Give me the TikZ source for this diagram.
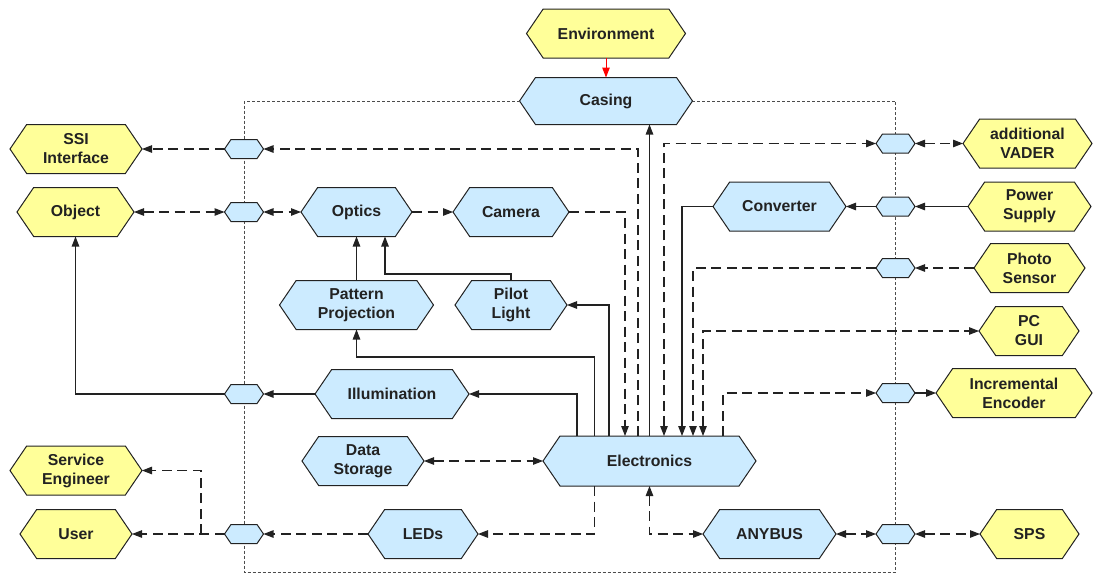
\documentclass[tikz,border=0pt]{standalone}
\usepackage{fontspec}
\setmainfont{Liberation Sans}
\usetikzlibrary{arrows.meta}

\definecolor{boxblue}{HTML}{CCEBFF}
\definecolor{boxyellow}{HTML}{FFFF99}
\definecolor{edge}{HTML}{222222}

\tikzset{
  hexline/.style={draw=edge, line width=1pt, line join=miter},
  bluebox/.style={fill=boxblue},
  yellowbox/.style={fill=boxyellow},
  hexlabel/.style={inner sep=0pt, outer sep=0pt, align=center, text=edge,
    font=\fontsize{15.8}{19}\selectfont\bfseries},
  link/.style={draw=edge, line width=1.05pt},
  dlink/.style={link, dash pattern=on 10pt off 5.5pt},
  frame/.style={draw=black!70, line width=0.6pt, dash pattern=on 3pt off 2pt},
  >={Triangle[length=10pt,width=7.5pt]}
}

% hexagon with pointed left/right ends: name, cx, cy, width, height, fill, text
\newcommand\hexnode[7]{%
  \pgfmathsetmacro\hxl{#2-#4/2}\pgfmathsetmacro\hxr{#2+#4/2}%
  \pgfmathsetmacro\hxi{0.34*#5}%
  \pgfmathsetmacro\hxt{#3-#5/2}\pgfmathsetmacro\hxb{#3+#5/2}%
  \draw[hexline,#6] (\hxl,#3) -- ({\hxl+\hxi},\hxt) -- ({\hxr-\hxi},\hxt)
    -- (\hxr,#3) -- ({\hxr-\hxi},\hxb) -- ({\hxl+\hxi},\hxb) -- cycle;
  \node[hexlabel, minimum width=#4pt, minimum height=#5pt] (#1) at (#2,#3) {#7};
}

\begin{document}
\begin{tikzpicture}[x=1pt, y=-1pt]
\useasboundingbox (0,0) rectangle (1095,574);

% routing channels
\coordinate (cA) at (577,0);   \coordinate (cB) at (594.5,0);
\coordinate (cC) at (609,0);   \coordinate (cD) at (625,0);
\coordinate (cE) at (638,0);   \coordinate (cG) at (664,0);
\coordinate (cH) at (682,0);   \coordinate (cI) at (693,0);
\coordinate (cJ) at (703,0);   \coordinate (cK) at (723,0);
\coordinate (cS) at (201,0);   \coordinate (cO) at (385,0);
\coordinate (yPP) at (0,357);  \coordinate (yPL) at (0,274);
\coordinate (bl) at (244,572); \coordinate (br) at (895.5,572);

% system nodes
\hexnode{casing}{606}{101}{173}{47}{bluebox}{Casing}
\hexnode{env}{606}{33.5}{159}{49}{yellowbox}{Environment}

% system boundary
\draw[frame] (casing.west) -| (bl) -- (br) |- (casing.east);

\hexnode{optics}{356.5}{212}{111}{49}{bluebox}{Optics}
\hexnode{camera}{511}{212}{116}{49}{bluebox}{Camera}
\hexnode{converter}{779.5}{206.5}{133}{49}{bluebox}{Converter}
\hexnode{pattern}{356.5}{305}{154}{49}{bluebox}{Pattern\\Projection}
\hexnode{pilot}{511}{305}{112}{49}{bluebox}{Pilot\\Light}
\hexnode{illum}{392}{394}{154}{49}{bluebox}{Illumination}
\hexnode{datast}{363}{461}{122}{49}{bluebox}{Data\\Storage}
\hexnode{elec}{649.5}{461}{213}{50}{bluebox}{Electronics}
\hexnode{leds}{423}{534}{110}{49}{bluebox}{LEDs}
\hexnode{anybus}{769.5}{534}{133}{49}{bluebox}{ANYBUS}

% external nodes
\hexnode{ssi}{76}{149}{132}{49}{yellowbox}{SSI\\Interface}
\hexnode{obj}{75.5}{212}{117}{49}{yellowbox}{Object}
\hexnode{serv}{76}{470.5}{132}{49}{yellowbox}{Service\\Engineer}
\hexnode{user}{76}{534}{112}{49}{yellowbox}{User}
\hexnode{vader}{1027.5}{143.5}{129}{49}{yellowbox}{additional\\VADER}
\hexnode{power}{1029.5}{206.5}{123}{49}{yellowbox}{Power\\Supply}
\hexnode{photo}{1029.5}{268}{111}{49}{yellowbox}{Photo\\Sensor}
\hexnode{pcgui}{1029}{331}{100}{49}{yellowbox}{PC\\GUI}
\hexnode{enc}{1014}{393}{156}{49}{yellowbox}{Incremental\\Encoder}
\hexnode{sps}{1029.5}{534}{99}{49}{yellowbox}{SPS}

% interface ports on the boundary
\hexnode{pSSI}{244}{149}{39}{19}{bluebox}{}
\hexnode{pObj}{244}{212}{39}{19}{bluebox}{}
\hexnode{pIll}{244}{394}{39}{19}{bluebox}{}
\hexnode{pUser}{244}{534}{39}{19}{bluebox}{}
\hexnode{pVad}{895.5}{143.5}{39}{19}{bluebox}{}
\hexnode{pPow}{895.5}{206.5}{39}{19}{bluebox}{}
\hexnode{pPho}{895.5}{268}{39}{19}{bluebox}{}
\hexnode{pEnc}{895.5}{393}{39}{19}{bluebox}{}
\hexnode{pSps}{895.5}{534}{39}{19}{bluebox}{}

% environment
\draw[line width=1pt, draw=red, fill=red, ->] (env.south) -- (casing.north);

% optical path
\draw[dlink, <->] (obj.east) -- (pObj.west);
\draw[dlink, <->] (pObj.east) -- (optics.west);
\draw[dlink, ->] (optics.east) -- (camera.west);
\draw[link, ->] (pattern.north) -- (optics.south);
\draw[link, ->] (pilot.north) -- (pilot.north |- yPL) -| (cO |- optics.south);
\draw[link, ->] (illum.west) -- (pIll.east);
\draw[link, ->] (pIll.west) -| (obj.south);

% electronics, upper side
\draw[link, ->] (cA |- elec.north) |- (illum.east);
\draw[link, ->] (cB |- elec.north) |- (pattern.south |- yPP) -- (pattern.south);
\draw[link, ->] (cC |- elec.north) |- (pilot.east);
\draw[dlink, ->] (camera.east) -| (cD |- elec.north);
\draw[dlink, ->] (cE |- elec.north) |- (pSSI.east);
\draw[dlink, ->] (pSSI.west) -- (ssi.east);
\draw[link, ->] (elec.north) -- (elec.north |- casing.south);
\draw[dlink, <->] (cG |- elec.north) |- (pVad.west);
\draw[dlink, <->] (pVad.east) -- (vader.west);
\draw[link, ->] (converter.west) -| (cH |- elec.north);
\draw[link, ->] (pPow.west) -- (converter.east);
\draw[link, ->] (power.west) -- (pPow.east);
\draw[dlink, ->] (pPho.west) -| (cI |- elec.north);
\draw[dlink, ->] (photo.west) -- (pPho.east);
\draw[dlink, <->] (cJ |- elec.north) |- (pcgui.west);
\draw[dlink, ->] (cK |- elec.north) |- (pEnc.west);
\draw[link, ->] (pEnc.east) -- (enc.west);

% electronics, lower side
\draw[dlink, <->] (datast.east) -- (elec.west);
\draw[dlink, ->] (cB |- elec.south) |- (leds.east);
\draw[dlink, ->] (leds.west) -- (pUser.east);
\draw[dlink, ->] (pUser.west) -- (user.east);
\draw[dlink, ->] (cS |- pUser.west) |- (serv.east);
\draw[dlink, <->] (elec.south) |- (anybus.west);
\draw[dlink, <->] (anybus.east) -- (pSps.west);
\draw[dlink, <->] (pSps.east) -- (sps.west);
\end{tikzpicture}
\end{document}
